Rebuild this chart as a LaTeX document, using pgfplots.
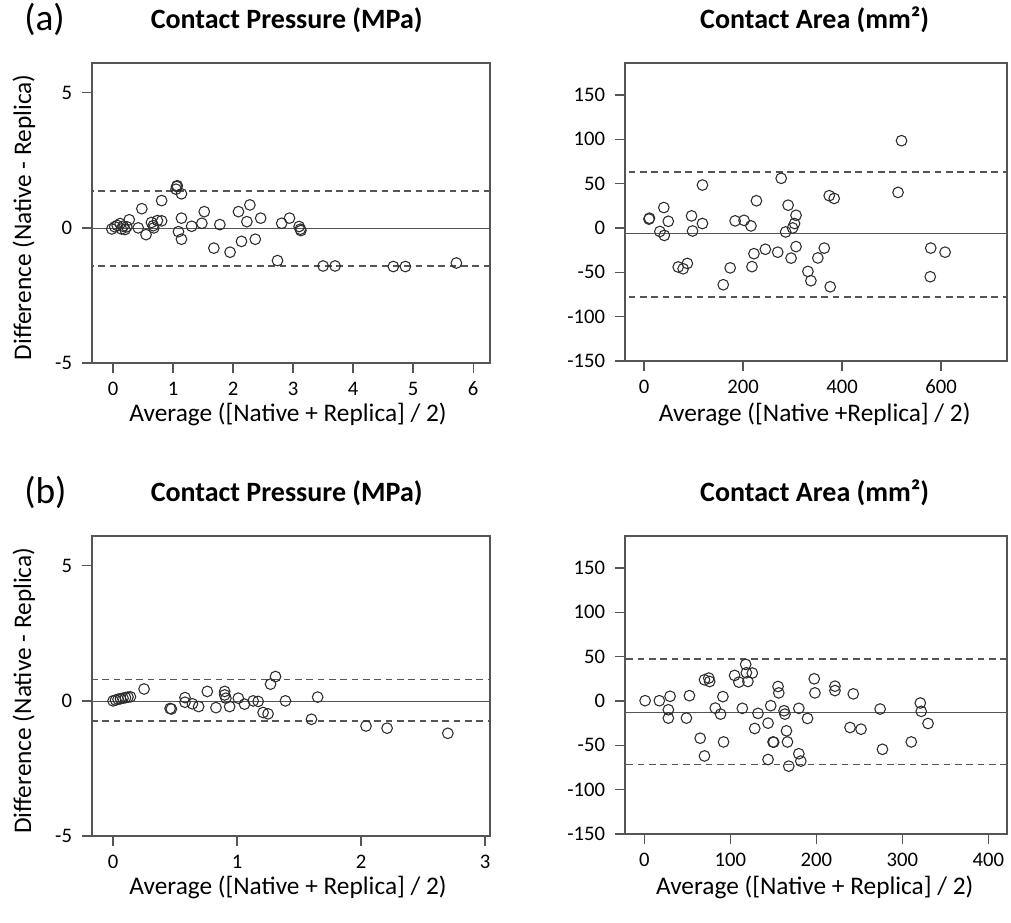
\documentclass[border=0pt]{standalone}
\usepackage{fontspec}
\setmainfont{Carlito}
\usepackage{pgfplots}
\pgfplotsset{compat=1.18}
\definecolor{axc}{RGB}{85,85,85}
\definecolor{ptc}{RGB}{45,45,45}
\pgfplotsset{
  ba/.style={
    scale only axis, anchor=south west,
    axis line style={axc, line width=1.1pt},
    tick style={axc, line width=1.0pt},
    major tick length=7.5pt, tick align=outside,
    xtick pos=bottom, ytick pos=left,
    ticklabel style={font=\fontsize{15.5}{17}\selectfont, inner sep=1pt},
    xticklabel style={yshift=-5.5pt},
    yticklabel style={xshift=-6.3pt},
    /pgf/number format/assume math mode=true,
  },
  mk/.style={only marks, mark=o, mark size=4pt, mark options={ptc, line width=0.8pt}},
  mn/.style={axc, line width=1.1pt},
  lim/.style={axc, line width=1.0pt, dash pattern=on 5pt off 3.5pt},
}
\tikzset{
  lab/.style={inner sep=0pt, font=\fontsize{19}{21}\selectfont},
  ttl/.style={inner sep=0pt, font=\bfseries\fontsize{21}{23}\selectfont},
}
\begin{document}
\begin{tikzpicture}
\useasboundingbox (0,0) rectangle (758.25pt,-691.5pt);
% ---------- (a) left
\begin{axis}[ba, at={(69pt,-272.25pt)}, width=298.5pt, height=225pt,
  xmin=-0.35, xmax=6.28, ymin=-5, ymax=6.1,
  xtick={0,1,2,3,4,5,6}, xticklabels={0,1,2,3,4,5,6},
  ytick={-5,0,5}, yticklabels={-5,0,5}]
\addplot[lim] coordinates {(-1,1.36) (7,1.36)};
\addplot[lim] coordinates {(-1,-1.41) (7,-1.41)};
\addplot[mn] coordinates {(-1,-0.02) (7,-0.02)};
\addplot[mk] coordinates {
(-0.02,-0.04) (0.03,0.04) (0.07,0.09) (0.12,0.16) (0.14,-0.04) (0.17,0.06)
(0.20,-0.06) (0.23,0.04) (0.27,0.30) (0.42,0.00) (0.48,0.71) (0.55,-0.25)
(0.64,0.20) (0.67,0.08) (0.68,0.00) (0.74,0.27) (0.81,0.26) (0.81,1.01)
(1.05,1.43) (1.06,1.53) (1.07,1.56) (1.14,1.26) (1.14,0.36) (1.09,-0.14)
(1.14,-0.42) (1.31,0.06) (1.48,0.17) (1.52,0.60) (1.68,-0.75) (1.78,0.12)
(1.95,-0.90) (2.09,0.60) (2.14,-0.50) (2.23,0.23) (2.28,0.85) (2.37,-0.42)
(2.46,0.36) (2.74,-1.21) (2.81,0.17) (2.94,0.36) (3.10,0.05) (3.12,-0.05)
(3.13,-0.10) (3.50,-1.41) (3.70,-1.41) (4.67,-1.43) (4.87,-1.43) (5.72,-1.30)
};
\end{axis}
% ---------- (a) right
\begin{axis}[ba, at={(468.75pt,-270.75pt)}, width=286.5pt, height=223.5pt,
  xmin=-38.4, xmax=733, ymin=-150, ymax=186,
  xtick={0,200,400,600}, xticklabels={0,200,400,600},
  ytick={-150,-100,-50,0,50,100,150}, yticklabels={-150,-100,-50,0,50,100,150}]
\addplot[lim] coordinates {(-100,63.2) (800,63.2)};
\addplot[lim] coordinates {(-100,-77.7) (800,-77.7)};
\addplot[mn] coordinates {(-100,-6.5) (800,-6.5)};
\addplot[mk] coordinates {
(10,10) (11,11) (40,23) (49,7.5) (32,-4) (41,-8.4) (69,-44) (79,-46) (87.5,-40)
(96,13.6) (98,-3.4) (118,5) (118,48.4) (160,-64) (174,-45) (184,8) (202,8.6)
(216,2.3) (227,30.7) (222,-29) (218,-43.6) (245,-24) (270,-27.3) (277,56)
(291,25.7) (286,-4.5) (297,-34) (307,14.3) (304,5) (300,0) (307,-21)
(374,36.4) (384,33.3) (364,-22.7) (351,-33.8) (331,-49) (337,-59.5) (376,-66.3)
(520,98.4) (513,40.1) (579,-22.7) (608,-27.3) (578,-55)
};
\end{axis}
% ---------- (b) left
\begin{axis}[ba, at={(69pt,-627pt)}, width=298.5pt, height=225pt,
  xmin=-0.17, xmax=3.04, ymin=-5, ymax=6.1,
  xtick={0,1,2,3}, xticklabels={0,1,2,3},
  ytick={-5,0,5}, yticklabels={-5,0,5}]
\addplot[lim] coordinates {(-1,0.78) (4,0.78)};
\addplot[lim] coordinates {(-1,-0.74) (4,-0.74)};
\addplot[mn] coordinates {(-1,-0.03) (4,-0.03)};
\addplot[mk] coordinates {
(0.00,0.00) (0.02,0.03) (0.04,0.06) (0.06,0.08) (0.08,0.10) (0.10,0.12)
(0.12,0.14) (0.14,0.15) (0.25,0.44) (0.46,-0.28) (0.47,-0.30) (0.58,0.12)
(0.58,-0.05) (0.64,-0.11) (0.69,-0.21) (0.76,0.35) (0.83,-0.25) (0.90,0.35)
(0.90,0.22) (0.91,0.10) (0.94,-0.21) (1.01,0.10) (1.06,-0.12) (1.13,0.00)
(1.17,-0.02) (1.21,-0.43) (1.25,-0.48) (1.27,0.62) (1.31,0.90) (1.39,0.00)
(1.65,0.14) (1.60,-0.68) (2.04,-0.93) (2.21,-1.01) (2.70,-1.20)
};
\end{axis}
% ---------- (b) right
\begin{axis}[ba, at={(468.75pt,-625.5pt)}, width=286.5pt, height=223.5pt,
  xmin=-22.4, xmax=421.7, ymin=-150, ymax=186,
  xtick={0,100,200,300,400}, xticklabels={0,100,200,300,400},
  ytick={-150,-100,-50,0,50,100,150}, yticklabels={-150,-100,-50,0,50,100,150}]
\addplot[lim] coordinates {(-100,47.5) (500,47.5)};
\addplot[lim] coordinates {(-100,-72) (500,-72)};
\addplot[mn] coordinates {(-100,-12.8) (500,-12.8)};
\addplot[mk] coordinates {
(1,0.3) (17.5,0.3) (30,5.3) (28,-9.9) (28,-19.3) (49,-19.3) (52.5,6) (65,-42)
(70,-62) (70,23.9) (75,25.8) (76,21.9) (82.5,-8) (88.7,-14.8) (91.4,4.9)
(92.2,-46.2) (105,28.8) (110,21.2) (114,-8.3) (117.9,41.3) (118.7,31.8)
(120.5,22) (125.6,31.5) (128.4,-31) (132.2,-14) (143.9,-25) (147,-5.3)
(149.7,-46.2) (150.5,-46.5) (143.9,-66) (155.5,16.3) (156.4,9.1) (162.5,-11)
(163.5,-14.8) (165.3,-33.7) (166.5,-46.2) (168,-73.5) (179.7,-8.3) (179.7,-59.5)
(182,-67.8) (189.8,-19.7) (197.6,25) (198.4,9.1) (221.7,16.7) (221.7,11.7)
(243,8) (239.2,-29.9) (252,-31.8) (274.2,-9.1) (276.9,-54.5) (310.4,-46.2)
(320.9,-2.3) (322,-11.7) (329.9,-25.4)
};
\end{axis}
% ---------- texts
\node[anchor=base west, inner sep=0pt, font=\fontsize{28}{30}\selectfont] at (18pt,-22.5pt) {(a)};
\node[anchor=base west, inner sep=0pt, font=\fontsize{28}{30}\selectfont] at (18pt,-377.25pt) {(b)};
\node[anchor=base, ttl] at (215pt,-21.4pt) {Contact Pressure (MPa)};
\node[anchor=base, ttl] at (611pt,-21.4pt) {Contact Area (mm²)};
\node[anchor=base, ttl] at (215pt,-376.2pt) {Contact Pressure (MPa)};
\node[anchor=base, ttl] at (611pt,-376.2pt) {Contact Area (mm²)};
\node[anchor=base, lab] at (216pt,-316pt) {Average ([Native + Replica] / 2)};
\node[anchor=base, lab] at (611pt,-316pt) {Average ([Native +Replica] / 2)};
\node[anchor=base, lab] at (216pt,-670.75pt) {Average ([Native + Replica] / 2)};
\node[anchor=base, lab] at (611pt,-670.75pt) {Average ([Native + Replica] / 2)};
\node[rotate=90, lab] at (18pt,-163pt) {Difference (Native - Replica)};
\node[rotate=90, lab] at (18pt,-518pt) {Difference (Native - Replica)};
\end{tikzpicture}
\end{document}
